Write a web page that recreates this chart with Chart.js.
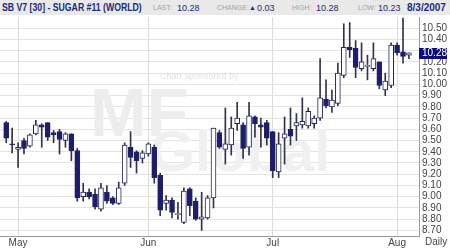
<!DOCTYPE html>
<html>
<head>
<meta charset="utf-8">
<script src="https://cdn.jsdelivr.net/npm/chart.js@4.4.0/dist/chart.umd.min.js"></script>
<style>
  body { margin: 0; background: #fff; }
  #wrap { position: relative; width: 450px; height: 250px; font-family: Arial, "Liberation Sans", sans-serif; }
  canvas { position: absolute; left: 0; top: 0; }
  #head { position: absolute; left: 0; top: 0; width: 450px; height: 15px; background: #e9e9e9; }
  #head span { position: absolute; top: 2px; line-height: 12px; white-space: nowrap; }
  .ttl { font-size: 10px; font-weight: bold; color: #1c2a80; transform: scaleX(0.87); transform-origin: left; }
  .lab { font-size: 7px; color: #a3a3a3; }
  .val { font-size: 9px; color: #1c2a80; }
</style>
</head>
<body>
<div id="wrap">
  <canvas id="myChart" width="450" height="250"></canvas>
  <div id="head">
    <span class="ttl" style="left:2px">SB V7 [30] - SUGAR #11 (WORLD)</span>
    <span class="lab" style="left:153px">LAST:</span>
    <span class="val" style="left:177px">10.28</span>
    <span class="lab" style="left:217px">CHANGE:</span>
    <span class="val" style="left:249px;font-size:7px">&#9650;</span>
    <span class="val" style="left:257px">0.03</span>
    <span class="lab" style="left:292px">HIGH:</span>
    <span class="val" style="left:316px">10.28</span>
    <span class="lab" style="left:358px">LOW:</span>
    <span class="val" style="left:378px">10.23</span>
    <span class="ttl" style="left:407px;transform:none">8/3/2007</span>
  </div>
</div>
<script>
// Daily candles, 27 Apr 2007 -> 3 Aug 2007
const open  = [9.66, 9.47, 9.42, 9.50, 9.45, 9.56, 9.64, 9.66, 9.57, 9.58, 9.50, 9.56, 9.41, 9.00, 9.04, 9.02, 8.89, 9.04, 8.99, 8.94,
               9.12, 9.44, 9.40, 9.34, 9.38, 9.44, 9.19, 8.94, 8.97, 8.84, 8.77, 9.07, 8.96, 8.80, 8.81, 8.99, 9.57, 9.42, 9.46, 9.65,
               9.64, 9.44, 9.71, 9.64, 9.66, 9.58, 9.22, 9.52, 9.60, 9.63, 9.64, 9.63, 9.65, 9.70, 9.87, 9.80, 9.83, 10.08, 10.33, 10.32,
               10.14, 10.16, 10.14, 10.20, 9.95, 9.99, 10.35, 10.29, 10.26];
const high  = [9.67, 9.61, 9.48, 9.52, 9.56, 9.68, 9.65, 9.66, 9.59, 9.60, 9.57, 9.56, 9.43, 9.12, 9.07, 9.07, 9.12, 9.10, 9.00, 9.13,
               9.48, 9.58, 9.41, 9.41, 9.48, 9.46, 9.21, 9.01, 8.99, 8.95, 9.08, 9.08, 8.99, 9.04, 9.01, 9.61, 9.59, 9.79, 9.71, 9.84,
               9.66, 9.84, 9.72, 9.70, 9.68, 9.58, 9.57, 9.71, 9.79, 9.74, 9.88, 9.79, 9.72, 10.23, 10.04, 9.95, 10.19, 10.54, 10.55, 10.39,
               10.37, 10.26, 10.37, 10.20, 10.10, 10.37, 10.37, 10.59, 10.28];
const low   = [9.48, 9.39, 9.26, 9.38, 9.44, 9.55, 9.44, 9.50, 9.48, 9.38, 9.44, 9.32, 8.96, 8.96, 8.98, 8.89, 8.87, 8.94, 8.93, 8.93,
               9.10, 9.26, 9.21, 9.30, 9.36, 9.12, 8.83, 8.88, 8.81, 8.80, 8.76, 8.83, 8.79, 8.70, 8.80, 8.90, 9.43, 9.29, 9.37, 9.59,
               9.34, 9.37, 9.53, 9.44, 9.46, 9.17, 9.17, 9.29, 9.46, 9.50, 9.61, 9.61, 9.61, 9.68, 9.79, 9.75, 9.81, 10.06, 10.24, 10.06,
               10.12, 10.04, 10.12, 9.96, 9.90, 9.97, 10.26, 10.19, 10.23];
const close = [9.52, 9.46, 9.44, 9.43, 9.55, 9.64, 9.62, 9.53, 9.55, 9.51, 9.56, 9.41, 8.99, 9.04, 9.00, 8.91, 9.08, 8.96, 8.94, 9.08,
               9.46, 9.35, 9.32, 9.39, 9.47, 9.17, 8.88, 8.97, 8.86, 8.85, 9.05, 8.92, 8.80, 8.82, 8.99, 9.61, 9.44, 9.47, 9.61, 9.70,
               9.43, 9.72, 9.65, 9.62, 9.52, 9.23, 9.47, 9.56, 9.54, 9.66, 9.67, 9.76, 9.70, 9.88, 9.81, 9.86, 10.10, 10.33, 10.31, 10.15,
               10.20, 10.16, 10.23, 9.99, 10.03, 10.35, 10.28, 10.25, 10.28];

// Month ticks: index of first trading day of each month
const monthLabels = ['May', 'Jun', 'Jul', 'Aug'];
const monthIdx = [2, 24, 45, 66];
const yTicks = [8.7, 8.8, 8.9, 9.0, 9.1, 9.2, 9.3, 9.4, 9.5, 9.6, 9.7, 9.8, 9.9, 10.0, 10.1, 10.2, 10.3, 10.4, 10.5];
const lastPrice = 10.28;

const NAVY = '#1c1c70';
const days = open.map((_, i) => i);

// watermark + price box
const decor = {
    id: 'decor',
    beforeDatasetsDraw(chart) {
        const c = chart.ctx;
        c.save();
        c.fillStyle = '#e2e2e2';
        c.font = '9px Arial';
        c.fillText('Chart sponsored by', 160, 79);
        c.fillStyle = '#ededed';
        c.font = 'bold 68px Arial';
        c.fillText('MF', 90, 136);
        c.fillStyle = '#f0f0f0';
        c.font = 'bold 58px Arial';
        c.fillText('Global', 150, 171);
        c.restore();
    },
    afterDraw(chart) {
        const c = chart.ctx;
        const y = chart.scales.y.getPixelForValue(lastPrice);
        c.save();
        c.fillStyle = '#0c0c80';
        c.fillRect(419, Math.round(y) - 5, 28, 11);
        c.fillStyle = '#fff';
        c.font = '10px Arial';
        c.textBaseline = 'middle';
        c.fillText(lastPrice.toFixed(2), 422, y + 0.5);
        c.fillStyle = '#444';
        c.fillText('Daily', 425, 242);
        c.restore();
    }
};

const ctx = document.getElementById('myChart').getContext('2d');
new Chart(ctx, {
    type: 'bar',
    data: {
        datasets: [
            {
                label: 'body',
                data: days.map(i => ({ x: i, y: [open[i], close[i]] })),
                backgroundColor: c => {
                    const i = c.dataIndex;
                    return close[i] >= open[i] ? '#ffffff' : NAVY;
                },
                borderColor: '#23235a',
                borderWidth: 1,
                borderSkipped: false,
                barThickness: 5,
                minBarLength: 1,
                grouped: false,
                order: 1
            },
            {
                label: 'range',
                data: days.map(i => ({ x: i, y: [low[i], high[i]] })),
                backgroundColor: '#33334a',
                barThickness: 1,
                grouped: false,
                order: 2
            }
        ]
    },
    options: {
        responsive: false,
        animation: false,
        layout: { padding: { top: 17 } },
        plugins: { legend: { display: false }, tooltip: { enabled: false } },
        scales: {
            x: {
                type: 'linear',
                min: -1.05,
                max: 69.7,
                offset: false,
                afterBuildTicks: s => { s.ticks = monthIdx.map(v => ({ value: v })); },
                afterFit: s => { s.height = 14; },
                grid: { offset: false, color: '#dcdcdc', drawTicks: false },
                border: { color: '#9a9a9a' },
                ticks: {
                    autoSkip: false, maxRotation: 0, padding: 1,
                    color: '#444', font: { family: 'Arial', size: 10 },
                    callback: (v, i) => monthLabels[i]
                }
            },
            y: {
                position: 'right',
                min: 8.65,
                max: 10.60,
                afterBuildTicks: s => { s.ticks = yTicks.map(v => ({ value: v })); },
                afterFit: s => { s.width = 31; },
                grid: { color: '#e4e4e4', drawTicks: false },
                border: { color: '#9a9a9a' },
                ticks: {
                    autoSkip: false, padding: 3, color: '#444', font: { family: 'Arial', size: 10 },
                    callback: v => Math.abs(v - lastPrice) < 0.05 ? '' : v.toFixed(2)
                }
            }
        }
    },
    plugins: [decor]
});
</script>
</body>
</html>
